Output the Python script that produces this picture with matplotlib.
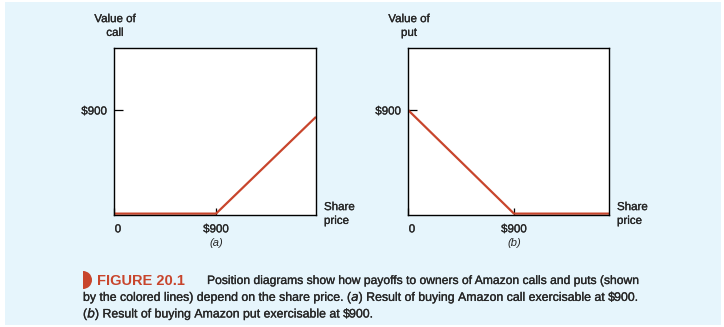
import matplotlib
matplotlib.use("Agg")
import matplotlib.pyplot as plt
import matplotlib.patheffects as pe
from matplotlib.patches import Rectangle, Wedge
from matplotlib.transforms import ScaledTranslation

# payoff data (share price, option value)
call_price = [0, 900, 1782]
call_value = [0, 0, 840]
put_price = [0, 900, 1707]
put_value = [900, 0, 0]
strike = 900
x_ticks = [0, strike]
x_ticklabels = ["0", "$900"]
y_ticks = [strike]
y_ticklabels = ["$900"]

W, H = 724, 327
FONT = ["Liberation Sans Narrow", "Liberation Sans", "DejaVu Sans"]
plt.rcParams["font.family"] = FONT
plt.rcParams["mathtext.fontset"] = "custom"
plt.rcParams["mathtext.rm"] = "Liberation Sans Narrow"
plt.rcParams["mathtext.it"] = "Liberation Sans Narrow:italic"

red = "#c8452c"
txt = "#262626"
bg = "#e6f5fc"
# slightly heavier strokes, like a medium-weight face
heavy = [pe.withStroke(linewidth=0.2, foreground=txt)]


def fx(x):
    return x / W


def fy(y):
    return 1 - y / H


fig = plt.figure(figsize=(W / 100, H / 100), dpi=100, facecolor="white")
fig.patches.append(Rectangle((fx(5), fy(325)), fx(716), 323 / H,
                             transform=fig.transFigure, facecolor=bg,
                             edgecolor="none", zorder=-5))


def panel(left, width, xs, ys, xmax, ylabel, tag):
    ax = fig.add_axes([fx(left), fy(215), fx(width), 167 / H])
    ax.plot(xs, ys, color=red, lw=1.6, solid_capstyle="butt")
    ax.set_xlim(0, xmax)
    ax.set_ylim(-12, 1438)
    ax.set_xticks(x_ticks)
    ax.set_xticklabels(x_ticklabels)
    ax.set_yticks(y_ticks)
    ax.set_yticklabels(y_ticklabels)
    ax.tick_params(axis="x", direction="in", length=5, width=0.9, pad=6,
                   labelsize=8.3, colors="black", labelcolor=txt)
    ax.tick_params(axis="y", direction="in", length=6.5, width=0.9, pad=5,
                   labelsize=8.3, colors="black", labelcolor=txt)
    for lab in ax.get_xticklabels() + ax.get_yticklabels():
        lab.set_path_effects(heavy)
    # the "0" sits a little right of the corner
    zero = ax.get_xticklabels()[0]
    zero.set_transform(zero.get_transform() +
                       ScaledTranslation(4 / 100, 0, fig.dpi_scale_trans))
    for s in ax.spines.values():
        s.set_linewidth(1.0)
    ax.set_facecolor("white")
    fig.text(fx(left + 1), fy(26), ylabel, ha="center", va="center",
             fontsize=8.3, color=txt, linespacing=1.2, path_effects=heavy)
    fig.text(fx(left + width + 8), fy(214), "Share\nprice", ha="left",
             va="center", fontsize=8.3, color=txt, linespacing=1.2,
             path_effects=heavy)
    xs900 = left + width * strike / xmax
    fig.text(fx(xs900), fy(243), tag, ha="center", va="center",
             fontsize=8, color=txt, style="italic")
    return ax


panel(114, 202, call_price, call_value, 1782, "Value of\ncall", "(a)")
panel(408, 201, put_price, put_value, 1707, "Value of\nput", "(b)")

# caption
fig.patches.append(Wedge((83, H - 280), 9, -90, 90, transform=None,
                         facecolor=red, edgecolor="none"))
fig.text(fx(97), fy(281), "FIGURE 20.1", ha="left", va="center",
         fontsize=10.5, color=red, fontweight="bold")
fig.text(fx(207), fy(281),
         "Position diagrams show how payoffs to owners of Amazon calls and puts (shown",
         ha="left", va="center", fontsize=8.72, color=txt, path_effects=heavy)
fig.text(fx(83), fy(298),
         "by the colored lines) depend on the share price. ($\\mathit{a}$) Result of buying Amazon call exercisable at \\$900.",
         ha="left", va="center", fontsize=8.88, color=txt, path_effects=heavy)
fig.text(fx(83), fy(314),
         "($\\mathit{b}$) Result of buying Amazon put exercisable at \\$900.",
         ha="left", va="center", fontsize=8.88, color=txt, path_effects=heavy)

fig.savefig("out.png", dpi=100, facecolor=fig.get_facecolor())
